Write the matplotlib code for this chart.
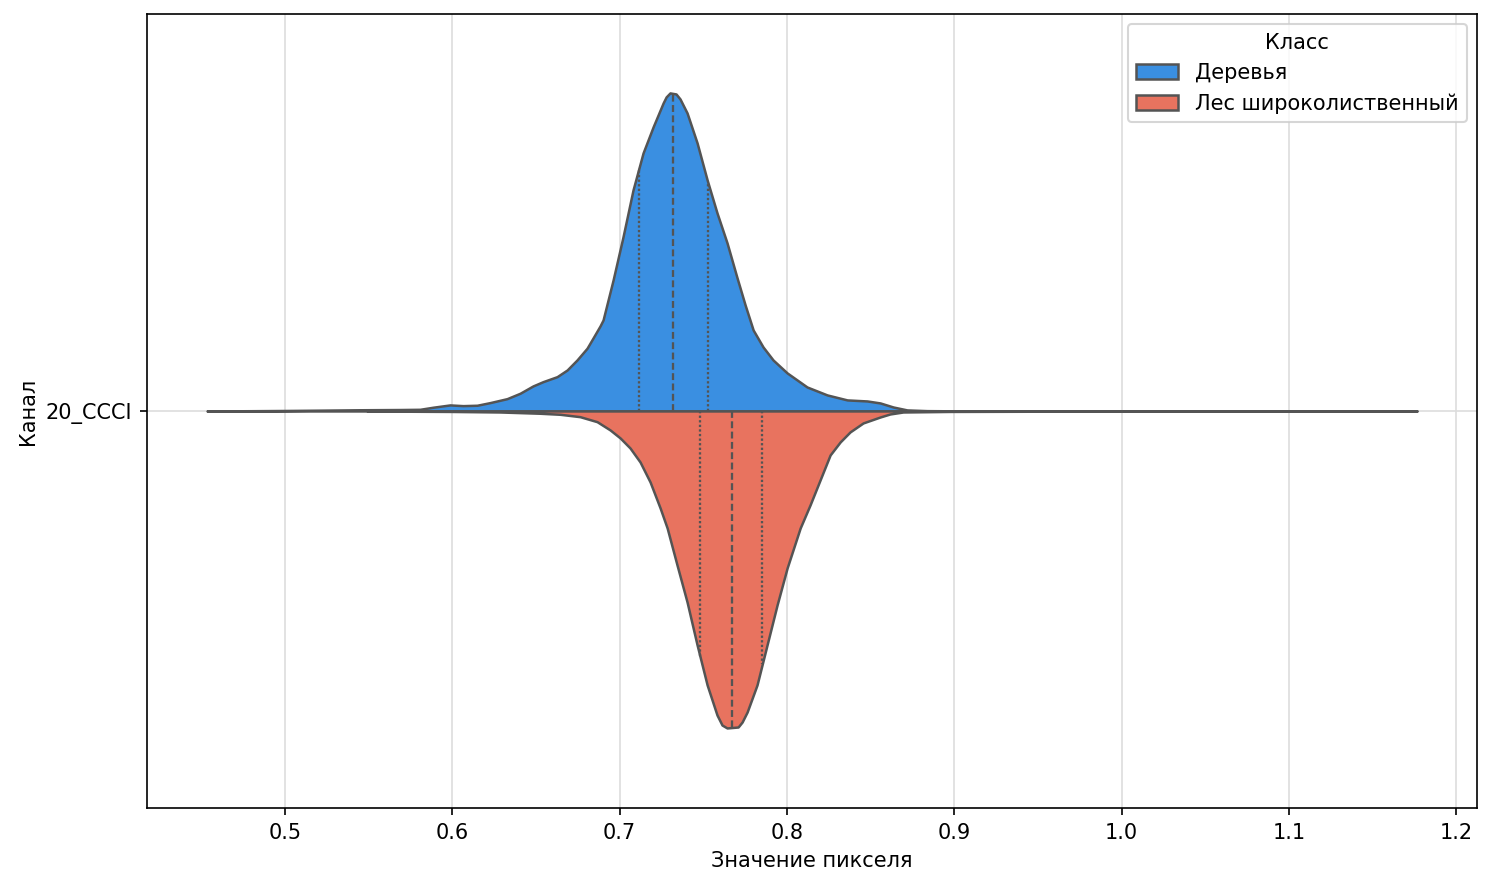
import numpy as np
import matplotlib.pyplot as plt

BLUE = '#3a8fe1'
RED = '#e8735f'
EDGE = '#545454'

channel = '20_CCCI'
classes = ['Деревья', 'Лес широколиственный']

# half-width profiles of the split violin (value, scaled density)
trees_x = [0.4534, 0.4791, 0.5, 0.5209, 0.5448, 0.5687, 0.5807, 0.5885, 0.5986, 0.6064,
           0.6148, 0.6225, 0.6327, 0.6405, 0.6482, 0.6542, 0.6626, 0.6686, 0.6745, 0.6805,
           0.6841, 0.6883, 0.6901, 0.6931, 0.6961, 0.7020, 0.7080, 0.7140, 0.7200, 0.7260,
           0.7278, 0.7301, 0.7337, 0.7361, 0.7403, 0.7463, 0.7523, 0.7582, 0.7642, 0.7702,
           0.7750, 0.7798, 0.7857, 0.7917, 0.8001, 0.8120, 0.8240, 0.8360, 0.8479, 0.8557,
           0.8635, 0.8718, 0.8838, 0.9035, 0.9597]
trees_d = [0.0, 0.0003, 0.0006, 0.0010, 0.0015, 0.0018, 0.0021, 0.0047, 0.0076, 0.0067,
           0.0072, 0.0105, 0.0155, 0.0223, 0.0315, 0.0369, 0.0432, 0.0516, 0.0642, 0.0790,
           0.0919, 0.1071, 0.1146, 0.1398, 0.1650, 0.2191, 0.2783, 0.3249, 0.3577, 0.3879,
           0.3955, 0.4005, 0.3992, 0.3929, 0.3753, 0.3375, 0.2909, 0.2494, 0.2116, 0.1675,
           0.1335, 0.1020, 0.0806, 0.0642, 0.0479, 0.0302, 0.0202, 0.0139, 0.0126, 0.0101,
           0.0050, 0.0013, 0.0004, 0.0001, 0.0]

forest_x = [0.5490, 0.5687, 0.5986, 0.6285, 0.6524, 0.6644, 0.6763, 0.6865, 0.6943, 0.7003,
            0.7062, 0.7122, 0.7182, 0.7242, 0.7284, 0.7343, 0.7403, 0.7463, 0.7523, 0.7582,
            0.7612, 0.7642, 0.7708, 0.7732, 0.7762, 0.7821, 0.7881, 0.7941, 0.8001, 0.8079,
            0.8138, 0.8198, 0.8258, 0.8318, 0.8377, 0.8455, 0.8557, 0.8616, 0.8694, 0.8975,
            0.9573, 1.1767]
forest_d = [0.0, 0.0003, 0.0006, 0.0013, 0.0029, 0.0042, 0.0072, 0.0135, 0.0239, 0.0340,
            0.0466, 0.0642, 0.0894, 0.1222, 0.1474, 0.1940, 0.2406, 0.2947, 0.3451, 0.3829,
            0.3955, 0.3992, 0.3980, 0.3917, 0.3791, 0.3451, 0.2947, 0.2443, 0.1977, 0.1474,
            0.1184, 0.0869, 0.0554, 0.0390, 0.0264, 0.0151, 0.0076, 0.0038, 0.0013, 0.0006,
            0.0003, 0.0]

trees_quart = [0.7116, 0.7319, 0.7528]
forest_quart = [0.7483, 0.7672, 0.7852]

fig, ax = plt.subplots(figsize=(9.947, 5.927), dpi=150)
fig.subplots_adjust(left=0.0985, right=0.99, top=0.9843, bottom=0.0911)

ax.grid(True, color='#dddddd', linewidth=0.8)
ax.set_axisbelow(True)

for xs, ds, quart, color, sign, label in [
        (trees_x, trees_d, trees_quart, BLUE, 1, classes[0]),
        (forest_x, forest_d, forest_quart, RED, -1, classes[1])]:
    xs = np.array(xs)
    ds = np.array(ds) * sign
    ax.fill_between(xs, 0, ds, facecolor=color, edgecolor=EDGE, linewidth=1.2,
                    label=label, zorder=2, joinstyle='round')
    for i, q in enumerate(quart):
        h = np.interp(q, xs, ds)
        if i == 1:
            ax.plot([q, q], [0, h], color=EDGE, linewidth=1.1,
                    linestyle=(0, (3, 1.5)), zorder=3)
        else:
            ax.plot([q, q], [0, h], color=EDGE, linewidth=1.1,
                    linestyle=(0, (1, 1)), zorder=3)

ax.set_ylim(-0.5, 0.5)
ax.set_xlim(0.4175, 1.2125)
ax.set_yticks([0])
ax.set_yticklabels([channel])
ax.set_xticks(np.arange(0.5, 1.21, 0.1))
ax.set_xlabel('Значение пикселя')
ax.set_ylabel('Канал')
ax.legend(title='Класс', loc='upper right')

fig.savefig('out.png')
